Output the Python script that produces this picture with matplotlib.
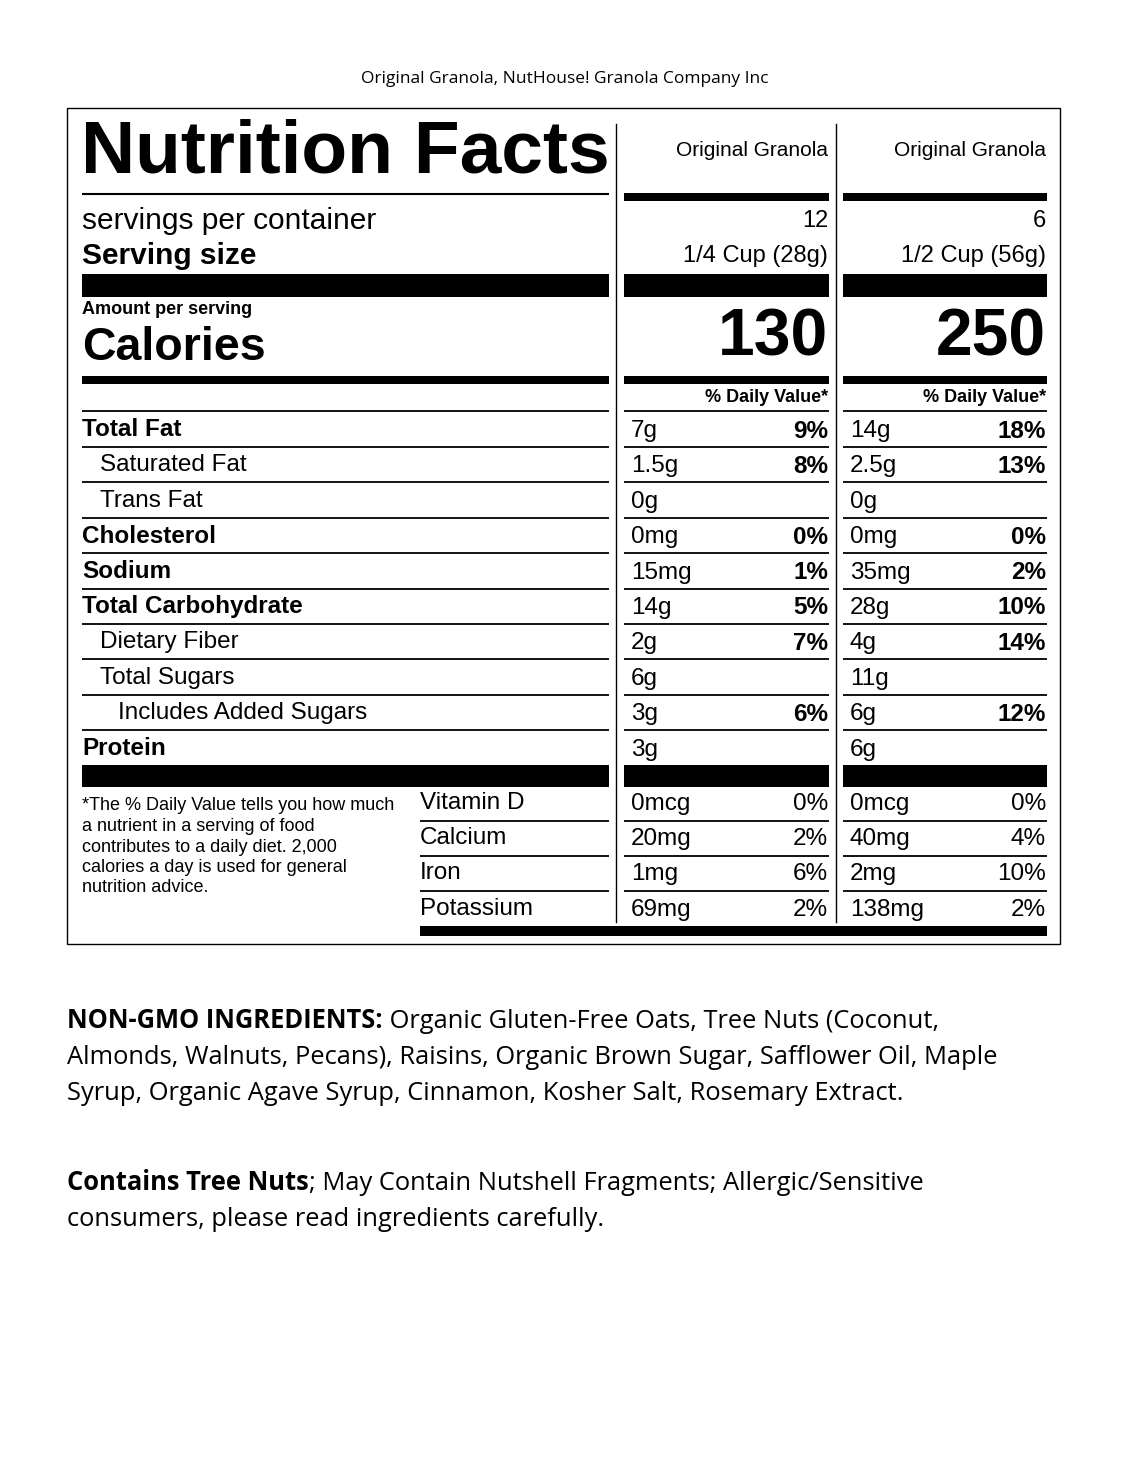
import matplotlib
matplotlib.use("Agg")
import matplotlib.pyplot as plt

# ---- data ----
page_title = "Original Granola, NutHouse! Granola Company Inc"
col_names = ["Original Granola", "Original Granola"]
servings = ["12", "6"]
serving_sizes = ["1/4 Cup (28g)", "1/2 Cup (56g)"]
calories = ["130", "250"]

nutrients = ["Total Fat", "Saturated Fat", "Trans Fat", "Cholesterol", "Sodium",
             "Total Carbohydrate", "Dietary Fiber", "Total Sugars",
             "Includes Added Sugars", "Protein"]
indent = [0, 1, 1, 0, 0, 0, 1, 1, 2, 0]
amounts_1 = ["7g", "1.5g", "0g", "0mg", "15mg", "14g", "2g", "6g", "3g", "3g"]
dv_1 = ["9%", "8%", "", "0%", "1%", "5%", "7%", "", "6%", ""]
amounts_2 = ["14g", "2.5g", "0g", "0mg", "35mg", "28g", "4g", "11g", "6g", "6g"]
dv_2 = ["18%", "13%", "", "0%", "2%", "10%", "14%", "", "12%", ""]

vitamins = ["Vitamin D", "Calcium", "Iron", "Potassium"]
vit_amt_1 = ["0mcg", "20mg", "1mg", "69mg"]
vit_dv_1 = ["0%", "2%", "6%", "2%"]
vit_amt_2 = ["0mcg", "40mg", "2mg", "138mg"]
vit_dv_2 = ["0%", "4%", "10%", "2%"]

footnote = ["*The % Daily Value tells you how much", "a nutrient in a serving of food",
            "contributes to a daily diet. 2,000", "calories a day is used for general",
            "nutrition advice."]

ingr_lines = [("NON-GMO INGREDIENTS:", " Organic Gluten-Free Oats, Tree Nuts (Coconut,"),
              ("", "Almonds, Walnuts, Pecans), Raisins, Organic Brown Sugar, Safflower Oil, Maple"),
              ("", "Syrup, Organic Agave Syrup, Cinnamon, Kosher Salt, Rosemary Extract.")]
contains_lines = [("Contains Tree Nuts", "; May Contain Nutshell Fragments; Allergic/Sensitive"),
                  ("", "consumers, please read ingredients carefully.")]

# ---- figure ----
W, H = 1131, 1463
fig = plt.figure(figsize=(W / 100, H / 100), dpi=100)
ax = fig.add_axes([0, 0, 1, 1])
ax.set_xlim(0, W)
ax.set_ylim(H, 0)
ax.axis("off")

LAB = "Liberation Sans"
BODY = "Open Sans"

def bar(x0, x1, y0, y1):
    ax.fill_between([x0, x1], y0, y1, color="black", lw=0)

def hline(x0, x1, y, lw=1.3):
    ax.plot([x0, x1], [y, y], color="black", lw=lw, solid_capstyle="butt")

def txt(x, y, s, size, bold=False, ha="left", family=LAB):
    return ax.text(x, y, s, fontsize=size, fontweight="bold" if bold else "normal",
                   ha=ha, va="center", family=family)

L0, L1 = 82, 609
cols = [(624, 829), (843, 1047)]

txt(565, 79, page_title, 12.5, ha="center", family=BODY)
ax.add_patch(plt.Rectangle((67, 108), 993, 836, fill=False, lw=1, ec="black"))

# vertical separators
ax.plot([616, 616], [124, 922], color="black", lw=1)
ax.plot([836, 836], [124, 922], color="black", lw=1)

txt(L0 - 1, 153, "Nutrition Facts", 54, bold=True)
hline(L0, L1, 194, 1.5)
for (a, b), name in zip(cols, col_names):
    txt(b - 1, 151, name, 15, ha="right")
    bar(a, b, 193, 201)

txt(L0, 221, "servings per container", 21.5)
txt(L0, 256, "Serving size", 21.5, bold=True)
for (a, b), s, ss in zip(cols, servings, serving_sizes):
    txt(b - 1, 221, s, 17, ha="right")
    txt(b - 1, 256, ss, 17, ha="right")

for a, b in [(L0, L1)] + cols:
    bar(a, b, 274, 297)

txt(L0, 310, "Amount per serving", 13, bold=True)
txt(L0, 348, "Calories", 33.5, bold=True)
for (a, b), c in zip(cols, calories):
    txt(b - 1, 339, c, 47.5, bold=True, ha="right")

for a, b in [(L0, L1)] + cols:
    bar(a, b, 376, 384)
for a, b in cols:
    txt(b - 1, 397, "% Daily Value*", 13, bold=True, ha="right")
    hline(a, b, 411)
hline(L0, L1, 411)

y0, dy = 430, 35.4
for i, n in enumerate(nutrients):
    y = y0 + i * dy
    txt(L0 + 18 * indent[i], y, n, 17.5, bold=(indent[i] == 0))
    for (a, b), am, dv in [(cols[0], amounts_1[i], dv_1[i]), (cols[1], amounts_2[i], dv_2[i])]:
        txt(a + 7, y + 1, am, 17.5)
        if dv:
            txt(b - 1, y + 1, dv, 17.5, bold=True, ha="right")
    if i < len(nutrients) - 1:
        ly = y + 17
        hline(L0, L1, ly)
        for a, b in cols:
            hline(a, b, ly)

for a, b in [(L0, L1)] + cols:
    bar(a, b, 765, 787)

for i, v in enumerate(vitamins):
    y = 803 + i * 35.2
    txt(420, y, v, 17.5)
    for (a, b), am, dv in [(cols[0], vit_amt_1[i], vit_dv_1[i]), (cols[1], vit_amt_2[i], vit_dv_2[i])]:
        txt(a + 7, y + 1, am, 17.5)
        txt(b - 1, y + 1, dv, 17.5, ha="right")
    if i < len(vitamins) - 1:
        ly = y + 17.5
        hline(420, L1, ly)
        for a, b in cols:
            hline(a, b, ly)

for i, f in enumerate(footnote):
    txt(L0, 806 + i * 20.5, f, 13)

bar(420, 1047, 926, 936)

# ---- ingredient text with mixed weights ----
fig.canvas.draw()
renderer = fig.canvas.get_renderer()
inv = ax.transData.inverted()

def mixed(lines, ystart, step):
    for k, (b, r) in enumerate(lines):
        y = ystart + k * step
        x = 67
        if b:
            t = txt(x, y, b, 18.4, bold=True, family=BODY)
            bb = t.get_window_extent(renderer)
            x = inv.transform((bb.x1, bb.y0))[0]
        txt(x, y, r, 18.4, family=BODY)

mixed(ingr_lines, 1021, 36)
mixed(contains_lines, 1183, 36)

fig.savefig("out.png", dpi=100)
